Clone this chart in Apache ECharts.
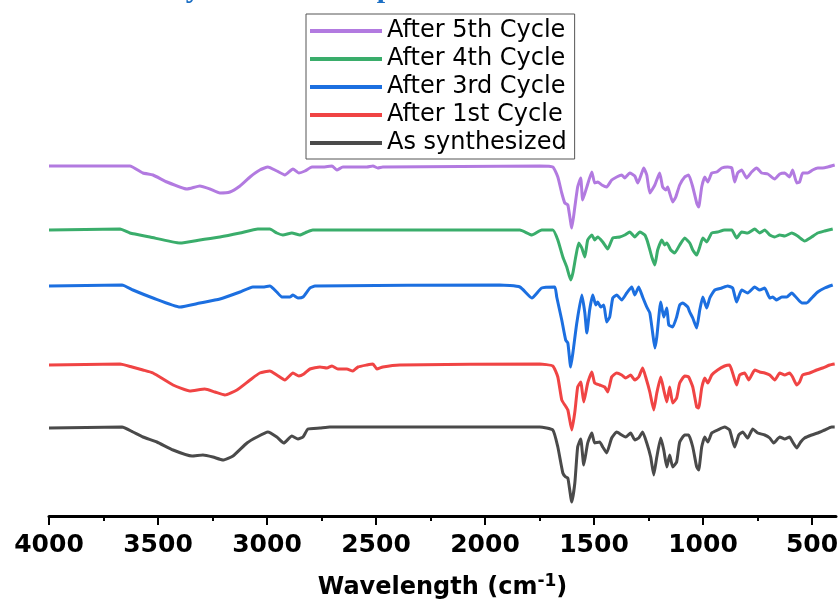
<!DOCTYPE html>
<html>
<head>
<meta charset="utf-8">
<script src="https://cdn.jsdelivr.net/npm/echarts@6/dist/echarts.min.js"></script>
<style>
  html, body { margin: 0; padding: 0; background: #fff; }
  #chart { width: 838px; height: 601px; }
</style>
</head>
<body>
<div id="chart"></div>
<script>
// [wavenumber (cm-1), stacked transmittance (a.u.)]
const cycle5 = [[4000,350],[3629,350],[3569,343],[3523,341],[3459,334],[3367,327],[3308,330],[3262,327],[3216,323],[3170,324],[3124,330],[3078,339],[3033,346],[2996,349],[2955,345],[2918,341],[2881,347],[2854,343],[2826,345],[2794,349],[2744,349],[2702,350],[2680,346],[2652,349],[2542,349],[2514,350],[2492,348],[2469,349],[1749,350],[1689,349],[1666,339],[1648,323],[1634,313],[1620,311],[1602,288],[1588,309],[1575,329],[1561,338],[1552,316],[1533,329],[1510,344],[1497,333],[1483,334],[1464,331],[1442,329],[1419,336],[1396,339],[1373,341],[1359,338],[1336,343],[1313,340],[1299,333],[1281,343],[1272,348],[1258,341],[1244,323],[1221,331],[1199,343],[1185,329],[1171,326],[1162,329],[1153,323],[1139,314],[1125,319],[1107,331],[1084,339],[1066,341],[1047,329],[1029,313],[1020,309],[1006,329],[992,339],[978,334],[960,343],[937,344],[914,348],[887,349],[868,348],[855,334],[841,343],[823,346],[800,338],[777,344],[754,348],[731,343],[703,342],[671,337],[648,342],[625,343],[603,339],[589,346],[570,333],[557,334],[543,343],[520,343],[497,346],[474,348],[451,348],[428,349],[396,351]];
const cycle4 = [[4000,286],[3674,287],[3629,283],[3537,279],[3399,273],[3308,276],[3216,279],[3124,283],[3042,287],[2987,287],[2955,283],[2927,281],[2886,283],[2849,281],[2817,284],[2790,286],[1840,286],[1785,281],[1740,286],[1689,286],[1666,276],[1643,259],[1625,249],[1607,236],[1597,243],[1584,259],[1570,273],[1556,268],[1542,259],[1529,276],[1510,281],[1497,276],[1483,279],[1460,274],[1437,267],[1414,278],[1382,279],[1359,281],[1336,284],[1313,279],[1290,284],[1267,281],[1254,274],[1235,259],[1221,251],[1208,266],[1189,276],[1176,271],[1166,273],[1148,266],[1130,263],[1107,271],[1084,278],[1061,273],[1047,266],[1029,261],[1015,269],[1001,278],[983,274],[960,283],[933,284],[901,286],[868,286],[846,278],[823,284],[795,283],[763,287],[740,283],[717,286],[694,281],[671,279],[648,281],[625,280],[593,283],[566,280],[534,275],[502,279],[474,283],[442,285],[405,287]];
const cycle3 = [[4000,230],[3665,231],[3615,226],[3523,218],[3399,209],[3308,213],[3216,217],[3124,224],[3065,229],[3019,229],[2987,230],[2955,224],[2932,219],[2895,219],[2881,221],[2858,218],[2835,219],[2803,228],[2780,230],[1932,231],[1840,229],[1785,218],[1740,228],[1680,229],[1671,219],[1648,196],[1630,176],[1620,173],[1607,149],[1597,163],[1579,193],[1556,221],[1542,203],[1533,183],[1520,206],[1506,221],[1492,211],[1483,214],[1469,209],[1455,211],[1442,194],[1428,199],[1414,218],[1396,221],[1373,216],[1350,223],[1327,229],[1313,221],[1295,229],[1277,219],[1258,209],[1244,203],[1231,183],[1221,168],[1212,179],[1194,214],[1180,199],[1166,208],[1157,191],[1139,189],[1121,199],[1107,211],[1093,213],[1070,209],[1061,204],[1047,198],[1029,188],[1015,206],[1001,219],[983,208],[969,218],[946,226],[914,228],[887,230],[864,228],[846,214],[823,226],[795,223],[763,229],[740,226],[717,228],[694,218],[680,219],[662,216],[639,219],[616,219],[593,223],[570,218],[547,213],[525,213],[497,219],[474,224],[442,228],[405,231]];
const cycle1 = [[4000,151],[3674,152],[3619,149],[3569,146],[3523,143],[3431,131],[3354,125],[3285,127],[3239,124],[3193,121],[3138,126],[3078,136],[3033,143],[2987,145],[2955,141],[2918,136],[2881,143],[2854,140],[2831,142],[2803,147],[2757,149],[2725,148],[2702,150],[2675,147],[2634,147],[2606,145],[2583,149],[2542,151],[2514,152],[2496,147],[2469,149],[2391,151],[1749,152],[1689,150],[1666,139],[1648,116],[1634,111],[1620,106],[1602,86],[1588,104],[1575,129],[1561,134],[1547,114],[1529,133],[1510,144],[1497,133],[1474,131],[1451,129],[1437,124],[1419,139],[1396,143],[1373,141],[1355,138],[1332,141],[1313,136],[1295,139],[1277,148],[1263,139],[1244,124],[1226,106],[1212,123],[1194,139],[1180,126],[1166,114],[1153,129],[1139,113],[1121,118],[1107,133],[1084,140],[1066,139],[1047,129],[1029,109],[1020,108],[1006,128],[992,138],[978,133],[960,141],[933,146],[901,150],[878,151],[864,143],[846,131],[832,141],[809,143],[790,136],[763,146],[740,144],[717,143],[694,141],[671,136],[648,143],[625,141],[603,143],[589,139],[570,131],[557,134],[543,141],[511,143],[479,146],[451,148],[419,151],[396,152]];
const asSynth = [[4000,88],[3665,89],[3615,84],[3569,79],[3505,74],[3431,66],[3344,60],[3294,61],[3248,59],[3202,56],[3156,60],[3092,73],[3046,79],[2996,84],[2955,79],[2923,73],[2886,80],[2858,77],[2835,79],[2812,87],[2757,88],[2712,89],[1749,89],[1689,86],[1666,69],[1643,43],[1630,39],[1620,38],[1602,14],[1588,33],[1575,69],[1561,77],[1547,51],[1529,73],[1510,83],[1497,73],[1474,74],[1460,69],[1442,63],[1419,78],[1396,84],[1373,81],[1355,79],[1332,83],[1313,76],[1295,78],[1277,84],[1258,73],[1240,59],[1226,41],[1212,59],[1194,78],[1180,66],[1166,49],[1153,61],[1139,49],[1121,54],[1107,74],[1084,81],[1066,81],[1047,69],[1029,49],[1020,46],[1006,69],[992,79],[978,74],[960,83],[933,86],[901,89],[878,86],[855,69],[836,81],[818,84],[795,78],[772,87],[749,83],[717,81],[694,78],[676,73],[648,79],[625,77],[603,79],[589,74],[570,68],[552,74],[534,78],[502,81],[474,83],[442,86],[410,89],[396,89]];

const names = ['After 5th Cycle', 'After 4th Cycle', 'After 3rd Cycle', 'After 1st Cycle', 'As synthesized'];
const colors = ['#b27ae0', '#3aad6b', '#1c6fe0', '#f04444', '#4a4a4a'];
const spectra = [cycle5, cycle4, cycle3, cycle1, asSynth];
const majorTicks = [4000, 3500, 3000, 2500, 2000, 1500, 1000, 500];
const minorTicks = [3750, 3250, 2750, 2250, 1750, 1250, 750];

const chart = echarts.init(document.getElementById('chart'));

const font = 'DejaVu Sans, Liberation Sans, sans-serif';

chart.setOption({
    animation: false,
    title: {
        text: 'FTIR Analysis of the Sample',
        left: 40,
        top: -31,
        textStyle: { fontFamily: 'Liberation Serif, serif', fontSize: 30, fontWeight: 'bold', color: '#1c6fc4' }
    },
    legend: {
        orient: 'vertical',
        left: 306,
        top: 14,
        padding: [5, 8, 4, 4],
        itemGap: 4,
        itemWidth: 72,
        itemHeight: 4,
        icon: 'rect',
        borderColor: '#555',
        borderWidth: 1,
        textStyle: { fontSize: 24, fontFamily: font, color: '#000', lineHeight: 24 },
        data: names
    },
    grid: { left: 49, right: 2, top: 0, bottom: 85, outerBoundsMode: 'none' },
    xAxis: [
        {
            type: 'value',
            inverse: true,
            min: 390,
            max: 4000,
            name: '{a|Wavelength (cm}{s|-1}{a|)}',
            nameLocation: 'middle',
            nameGap: 57,
            nameTextStyle: {
                rich: {
                    a: { fontSize: 24, fontWeight: 'bold', fontFamily: font, color: '#000', verticalAlign: 'bottom' },
                    s: { fontSize: 17, fontWeight: 'bold', fontFamily: font, color: '#000', verticalAlign: 'top', padding: [0, 0, 10, 0] }
                }
            },
            axisLine: { lineStyle: { color: '#000', width: 3 } },
            axisTick: { length: 9, lineStyle: { color: '#000', width: 2 }, customValues: majorTicks },
            axisLabel: {
                customValues: majorTicks,
                formatter: v => String(v),
                fontSize: 25, fontWeight: 'bold', fontFamily: font, color: '#000', margin: 17
            },
            splitLine: { show: false }
        },
        {
            type: 'value',
            inverse: true,
            min: 390,
            max: 4000,
            position: 'bottom',
            axisLine: { show: false },
            axisTick: { length: 5, lineStyle: { color: '#000', width: 2 }, customValues: minorTicks },
            axisLabel: { show: false },
            splitLine: { show: false }
        }
    ],
    yAxis: { type: 'value', min: 0, max: 516, show: false },
    series: spectra.map((d, i) => ({
        name: names[i],
        type: 'line',
        xAxisIndex: 0,
        data: d,
        smooth: 0.15,
        symbol: 'none',
        lineStyle: { color: colors[i], width: 3 },
        itemStyle: { color: colors[i] }
    }))
});
</script>
</body>
</html>
